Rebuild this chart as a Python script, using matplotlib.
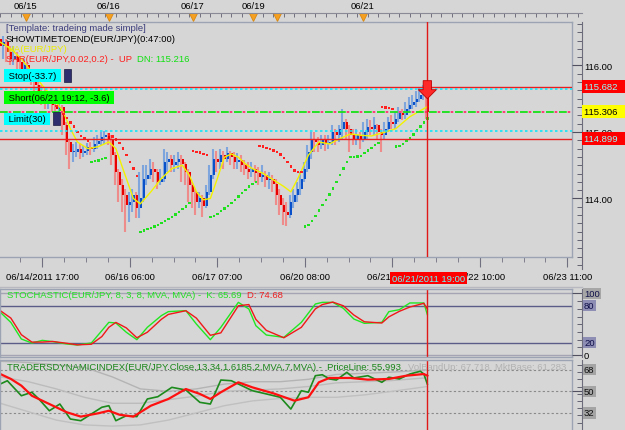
import numpy as np
import matplotlib.pyplot as plt
import matplotlib.transforms as mtransforms
from matplotlib.lines import Line2D
from matplotlib.patches import Rectangle
from matplotlib.ticker import MultipleLocator, FixedLocator, FormatStrFormatter

plt.rcParams['font.family'] = ['Liberation Sans', 'DejaVu Sans']
plt.rcParams['font.size'] = 6.8

# EUR/JPY hourly bars, 06/14 up to 06/21 19:00
closes = [116.30, 116.35, 116.20, 116.10, 116.15, 116.05, 115.95, 116.00, 115.90, 115.80,
          115.70, 115.62, 115.55, 115.45, 115.50, 115.40, 115.35, 115.38, 115.10, 114.85,
          114.70, 114.70, 114.75, 114.68, 114.72, 114.78, 114.74, 114.82, 114.86, 114.92,
          114.95, 114.88, 114.65, 114.40, 114.20, 114.05, 113.90, 113.95, 114.05, 113.85,
          114.00, 114.30, 114.35, 114.45, 114.40, 114.25, 114.30, 114.55, 114.60, 114.50,
          114.55, 114.60, 114.52, 114.40, 114.20, 114.10, 113.95, 114.00, 113.88, 114.10,
          114.35, 114.60, 114.55, 114.65, 114.60, 114.68, 114.62, 114.55, 114.58, 114.50,
          114.45, 114.40, 114.45, 114.38, 114.32, 114.35, 114.28, 114.30, 114.22, 114.05,
          113.90, 113.80, 113.75, 113.95, 114.05, 114.15, 114.30, 114.45, 114.70, 114.90,
          114.85, 114.80, 114.88, 114.82, 114.85, 115.00, 114.95, 115.05, 115.15, 115.05,
          114.95, 114.90, 114.95, 114.88, 115.00, 115.08, 115.05, 115.10, 115.00, 114.95,
          115.05, 115.15, 115.12, 115.20, 115.28, 115.25, 115.35, 115.40, 115.45, 115.50,
          115.55, 115.58, 115.306]
highs = [116.55, 116.45, 116.40, 116.30, 116.30, 116.20, 116.10, 116.10, 116.05, 115.95,
         115.85, 115.75, 115.70, 115.65, 115.60, 115.55, 115.50, 115.48, 115.40, 115.15,
         114.90, 114.82, 114.85, 114.82, 114.80, 114.84, 114.85, 114.92, 114.96, 115.00,
         115.02, 114.98, 114.95, 114.70, 114.45, 114.30, 114.15, 114.10, 114.15, 114.10,
         114.40, 114.50, 114.50, 114.60, 114.55, 114.45, 114.45, 114.75, 114.70, 114.65,
         114.65, 114.70, 114.65, 114.55, 114.45, 114.25, 114.15, 114.10, 114.05, 114.20,
         114.50, 114.75, 114.72, 114.75, 114.72, 114.77, 114.72, 114.70, 114.68, 114.65,
         114.58, 114.55, 114.55, 114.50, 114.48, 114.50, 114.42, 114.40, 114.35, 114.30,
         114.15, 114.00, 113.95, 114.05, 114.15, 114.25, 114.40, 114.55, 114.80, 115.00,
         115.00, 114.92, 114.95, 114.95, 114.95, 115.10, 115.05, 115.10, 115.35, 115.20,
         115.10, 115.05, 115.05, 115.00, 115.15, 115.20, 115.18, 115.22, 115.12, 115.05,
         115.15, 115.22, 115.25, 115.30, 115.38, 115.35, 115.45, 115.52, 115.55, 115.62,
         115.68, 115.70, 115.60]
lows = [116.20, 116.10, 116.05, 116.00, 116.00, 115.95, 115.85, 115.90, 115.80, 115.70,
        115.60, 115.50, 115.40, 115.35, 115.35, 115.30, 115.25, 115.28, 114.95, 114.65,
        114.45, 114.55, 114.62, 114.60, 114.62, 114.65, 114.66, 114.70, 114.75, 114.80,
        114.82, 114.80, 114.50, 114.20, 113.95, 113.80, 113.50, 113.65, 113.80, 113.70,
        113.70, 113.95, 114.20, 114.30, 114.25, 114.15, 114.20, 114.25, 114.40, 114.40,
        114.40, 114.45, 114.25, 114.20, 113.95, 113.85, 113.75, 113.85, 113.72, 113.85,
        114.05, 114.30, 114.40, 114.45, 114.45, 114.55, 114.50, 114.45, 114.45, 114.40,
        114.35, 114.30, 114.32, 114.25, 114.20, 114.25, 114.18, 114.15, 114.10, 113.90,
        113.75, 113.60, 113.58, 113.70, 113.85, 113.95, 114.05, 114.25, 114.40, 114.60,
        114.70, 114.70, 114.75, 114.72, 114.75, 114.80, 114.80, 114.85, 114.90, 114.90,
        114.70, 114.80, 114.80, 114.75, 114.85, 114.90, 114.95, 114.95, 114.88, 114.70,
        114.90, 115.00, 115.05, 115.05, 115.15, 115.18, 115.20, 115.30, 115.35, 115.38,
        115.45, 115.48, 115.20]
first_open = 116.40

ma_bars = [0, 3, 6, 9, 12, 15, 18, 20, 22, 25, 28, 31, 33, 36, 38, 40, 43, 46, 49, 52,
           54, 56, 58, 60, 62, 64, 66, 68, 70, 72, 75, 78, 81, 83, 85, 88, 91, 94, 97, 100,
           103, 106, 110, 113, 117, 121, 122]
ma_vals = [116.35, 116.25, 116.10, 115.90, 115.70, 115.52, 115.30, 115.05, 114.85, 114.75,
           114.78, 114.85, 114.75, 114.30, 114.00, 113.92, 114.10, 114.30, 114.45, 114.50,
           114.35, 114.10, 113.98, 114.00, 114.30, 114.62, 114.67, 114.62, 114.52, 114.45,
           114.38, 114.28, 114.18, 114.10, 114.30, 114.65, 114.85, 114.82, 114.90, 114.97,
           114.95, 114.94, 115.00, 115.05, 115.23, 115.35, 115.38]

nan = float('nan')
sar_vals = [nan] * 16 + [
    115.39, 115.33, 115.27, 115.21, 115.14, 115.08, 115.00, 114.94, 114.90, 114.87,
    114.55, 114.56, 114.57, 114.59, 114.61,
    114.96, 114.93, 114.89, 114.83, 114.75, 114.65, 114.55, 114.45, 114.34,
    113.50, 113.52, 113.54, 113.56, 113.58, 113.60, 113.63, 113.66, 113.69, 113.72,
    113.76, 113.80, 113.84, 113.88, 113.93,
    114.71, 114.70, 114.69, 114.67, 114.65,
    113.72, 113.74, 113.77, 113.81, 113.85, 113.89, 113.93, 113.98, 114.03, 114.08,
    114.13, 114.18, 114.22, 114.25,
    114.79, 114.78, 114.76, 114.74, 114.72, 114.70, 114.66, 114.61, 114.55, 114.48,
    114.42, 114.40, 114.40,
    113.58, 113.60, 113.66, 113.74, 113.82, 113.90, 113.98, 114.06, 114.15, 114.25,
    114.35, 114.45, 114.55, 114.62, 114.62, 114.63, 114.64, 114.68, 114.72, 114.76,
    114.80, 114.83,
    115.38, 115.37, 115.36, 115.35,
    114.78, 114.79, 114.82, 114.86, 114.90, 114.96, 115.02, 115.08, 115.14, 115.20]

stop_price = 115.682
stop_level = 115.65
bid_price = 115.306
limit_level = 115.01
limit_price = 114.899

stoch_bars = [0, 3, 6, 9, 12, 15, 19, 22, 26, 29, 31, 33, 36, 39, 42, 46, 48, 53, 56, 60,
              63, 68, 71, 73, 76, 81, 86, 90, 92, 95, 98, 101, 104, 109, 111, 114, 117, 121, 122]
stoch_k = [69.4, 53.0, 26.0, 19.5, 23.8, 21.7, 17.9, 16.3, 19.5, 39.6, 53.1, 52.0, 36.9, 24.9,
           45.0, 64.0, 70.5, 72.1, 50.4, 24.9, 45.0, 85.6, 74.8, 47.7, 32.5, 28.7, 53.1, 82.9,
           85.6, 85.6, 75.9, 58.5, 51.5, 53.1, 70.5, 73.7, 84.6, 84.6, 65.69]
stoch_d = [72.0, 60.0, 33.0, 21.0, 21.0, 22.0, 19.0, 16.5, 17.5, 30.0, 45.0, 53.0, 44.0, 28.0,
           37.0, 58.0, 66.0, 72.0, 60.0, 32.0, 36.0, 80.0, 82.0, 58.0, 40.0, 28.0, 45.0, 75.0,
           82.0, 86.0, 80.0, 65.0, 54.0, 52.0, 62.0, 71.0, 78.0, 84.0, 74.68]

tdi_bars = [0, 2, 6, 9, 11, 14, 17, 20, 23, 26, 29, 31, 33, 36, 39, 42, 45, 49, 53, 57,
            60, 63, 66, 69, 72, 76, 80, 83, 86, 88, 90, 92, 94, 96, 99, 101, 105, 109, 111, 114,
            117, 120, 121, 122]
tdi_price = [56.1, 58.8, 46.3, 49.2, 43.6, 33.8, 39.4, 26.9, 25.5, 31.1, 36.7, 38.0, 25.5, 29.7,
             28.9, 43.6, 45.5, 53.3, 51.1, 40.8, 39.4, 59.4, 58.8, 54.7, 50.5, 47.8, 45.0, 35.2,
             50.5, 49.2, 63.0, 63.8, 60.3, 59.4, 65.8, 61.1, 63.0, 57.5, 61.7, 60.3, 64.4, 66.7,
             64.4, 55.993]
signal_bars = [0, 3, 6, 9, 14, 19, 23, 28, 31, 34, 38, 43, 48, 53, 57, 60, 63, 68, 72, 78,
               84, 88, 91, 94, 100, 105, 111, 116, 121, 122]
tdi_signal = [64.4, 60.3, 54.7, 46.3, 39.4, 32.5, 28.9, 31.7, 33.8, 30.5, 28.9, 38.0, 43.6, 51.9,
              47.8, 43.6, 49.2, 57.5, 53.3, 48.3, 42.2, 45.0, 57.5, 61.1, 61.1, 59.7, 60.3, 63.0,
              64.4, 63.0]
band_bars = [0, 8, 16, 24, 32, 40, 48, 56, 64, 72, 80, 88, 96, 104, 112, 122]
band_up = [75, 74, 72, 70, 62, 52, 50, 52, 56, 58, 58, 60, 64, 65, 66, 67.718]
band_base = [62, 58, 52, 45, 40, 40, 43, 46, 50, 51, 52, 54, 57, 58, 59, 61.283]
band_dn = [40, 33, 26, 22, 21, 22, 26, 32, 38, 42, 44, 45, 45, 47, 50, 54]

time_ticks = [12, 37, 62, 87, 112, 137, 162]
time_labels = ['06/14/2011 17:00', '06/16 06:00', '06/17 07:00', '06/20 08:00',
               '06/21 09:00', '06/22 10:00', '06/23 11:00']
cursor_label = '06/21/2011 19:00'
event_pos = [7.3, 31.0, 55.0, 72.2, 79.0, 103.6]
event_labels = ['06/15', '06/16', '06/17', '06/19', '', '06/21']

BG = '#d6d6d6'
FRAME = '#9ca4b4'
W, H = 625, 431
BAR_PX = 3.5
X0 = -0.1

fig = plt.figure(figsize=(W / 100, H / 100), dpi=100, facecolor=BG)


def px_axes(x0, y0, x1, y1):
    a = fig.add_axes([x0 / W, 1 - y1 / H, (x1 - x0) / W, (y1 - y0) / H])
    a.set_facecolor(BG)
    a.set_xlim(X0, X0 + (x1 - x0) / BAR_PX)
    return a


def scale_axes(y0, y1, ylim):
    a = fig.add_axes([572 / W, 1 - y1 / H, 10 / W, (y1 - y0) / H])
    a.patch.set_visible(False)
    a.set_ylim(*ylim)
    a.set_xticks([])
    for s in ['left', 'top', 'bottom']:
        a.spines[s].set_visible(False)
    a.spines['right'].set_color('#6c6c7c')
    a.yaxis.tick_right()
    a.tick_params(axis='y', which='major', direction='in', length=7, color='#505060', pad=1.5)
    a.tick_params(axis='y', which='minor', direction='in', length=3.5, color='#505060')
    return a


def frame(a):
    for s in a.spines.values():
        s.set_color(FRAME)
        s.set_linewidth(1)


def label(a, text, dx, dy, **kw):
    a.annotate(text, xy=(0, 1), xycoords='axes fraction', xytext=(dx, dy),
               textcoords='offset pixels', ha='left', va='center', annotation_clip=False, **kw)


x = np.arange(len(closes))
c = np.array(closes)
o = np.array([first_open] + closes[:-1])
h = np.array(highs)
l = np.array(lows)
last = x[-1]

# ---------------- top ruler ----------------
ax_top = px_axes(0, 14, 582, 23)
ax_top.set_ylim(0, 1)
ax_top.set_yticks([])
for s in ['left', 'right', 'bottom']:
    ax_top.spines[s].set_visible(False)
ax_top.spines['top'].set_color('#8a8a96')
ax_top.set_xticks(event_pos, event_labels)
ax_top.xaxis.set_minor_locator(MultipleLocator(3))
ax_top.tick_params(axis='x', which='both', top=True, bottom=False, labeltop=True,
                   labelbottom=False, direction='in', length=3, color='#606070', pad=2)
ax_top.plot(event_pos, [0.55] * len(event_pos), ls='none', marker='v', ms=6,
            mfc='#f5a020', mec='#d88810', mew=0.6, clip_on=False)

# ---------------- main price panel ----------------
ax = px_axes(0, 23, 572, 258)
ax.set_ylim(113.12, 116.654)
frame(ax)
ax.spines['left'].set_visible(False)
ax.set_yticks([])

up = c >= o
ax.vlines(x - 0.25, l, h, colors=np.where(up, '#7ea6dc', '#ee8c8c'), lw=1.5, zorder=3)
ax.bar(x + 0.15, np.maximum(np.abs(c - o), 0.02), bottom=np.minimum(o, c), width=0.6,
       color=np.where(up, '#0a50c8', '#e80000'), linewidth=0, zorder=4)
ax.plot(ma_bars, ma_vals, color='#f2f200', lw=1, zorder=5)
sar = np.array(sar_vals)
ax.scatter(x, sar, s=3, marker='s', linewidths=0, zorder=5,
           c=np.where(sar > c, '#ff2020', '#20e020'))

ax.axhline(stop_price, color='#e82020', lw=1, zorder=6)
ax.axhline(stop_level, color='#10e8f8', lw=1.2, ls=(0, (1.5, 1.5)), zorder=6)
ax.axhline(bid_price, color='#18e018', lw=1.3, ls=(0, (4.3, 2.9)), zorder=6)
ax.axhline(bid_price, color='#ff3070', lw=1.3, ls=(2.4, (1.44, 5.76)), zorder=6)
ax.axhline(limit_level, color='#10e8f8', lw=1.2, ls=(0, (1.5, 1.5)), zorder=6)
ax.axhline(limit_price, color='#e82020', lw=1, zorder=6)
ax.axvline(last, color='#e01818', lw=1, zorder=6)

ax.annotate('', xy=(last, h[-1] - 0.1), xytext=(0, 13), textcoords='offset points',
            arrowprops=dict(arrowstyle='simple,head_length=0.65,head_width=1.3,tail_width=0.6',
                            mutation_scale=10, shrinkA=0, shrinkB=0,
                            fc='#ff2828', ec='#c00000', lw=0.6), zorder=8)

label(ax, '[Template: tradeing made simple]', 6, -5.5, color='#3c3c7c')
label(ax, 'SHOWTIMETOEND(EUR/JPY)(0:47:00)', 6, -16.5, color='black')
label(ax, 'MA(EUR/JPY)', 6, -27, color='#ecec00', zorder=7)
label(ax, 'SAR(EUR/JPY,0.02,0.2) -  UP', 6, -36.5, color='#ff2020', zorder=7)
label(ax, 'DN: 115.216', 137, -36.5, color='#10e010')
label(ax, ' Stop(-33.7) ', 6, -53.5, color='black', zorder=9,
      bbox=dict(boxstyle='square,pad=0.18', fc='#00ffff', ec='none'))
label(ax, ' Short(06/21 19:12, -3.6) ', 6, -75.5, color='black', zorder=9,
      bbox=dict(boxstyle='square,pad=0.18', fc='#00ff00', ec='none'))
label(ax, ' Limit(30) ', 6, -97, color='black', zorder=9,
      bbox=dict(boxstyle='square,pad=0.18', fc='#00ffff', ec='none'))
for bx0, by0 in [(64, 70), (53, 113)]:
    fig.add_artist(Rectangle((bx0 / W, 1 - (by0 + 13) / H), 7 / W, 13 / H,
                             fc='#2e2e6e', ec='#1a1a40', lw=0.5, zorder=9))

ax.set_xticks(time_ticks, time_labels)
ax.xaxis.set_minor_locator(FixedLocator(np.arange(time_ticks[0] - 12.5, 164, 6.25)))
ax.tick_params(axis='x', which='major', direction='out', length=7, color='#707080', pad=4)
ax.tick_params(axis='x', which='minor', direction='out', length=3.5, color='#707080')
ax.annotate(cursor_label, xy=(last, 0), xycoords=('data', 'axes fraction'), xytext=(1, -21),
            textcoords='offset pixels', ha='center', va='center', color='#60ffff', zorder=10,
            annotation_clip=False,
            bbox=dict(boxstyle='square,pad=0.2', fc='#ff0000', ec='none'))

ax_p = scale_axes(23, 270, (116 - (270 - 66.5) / 66.5, 116.654))
ax_p.set_yticks([114, 115, 116])
ax_p.yaxis.set_major_formatter(FormatStrFormatter('%.2f'))
ax_p.yaxis.set_minor_locator(MultipleLocator(0.125))
blend_p = mtransforms.blended_transform_factory(ax_p.transAxes, ax_p.transData)
for val, fc, tc in [(stop_price, '#ff0000', '#90ffff'), (bid_price, '#ffff00', 'black'),
                    (limit_price, '#ff0000', '#90ffff')]:
    ax_p.text(1.2, val, f'{val:.3f}  ', transform=blend_p, va='center', ha='left', color=tc,
              bbox=dict(boxstyle='square,pad=0.2', fc=fc, ec='none'), zorder=10)

fig.add_artist(Line2D([0, 582 / W], [1 - 287.5 / H] * 2, color='#b8b8c0', lw=1))

# ---------------- stochastic panel ----------------
ax_s = px_axes(0, 290, 572, 358)
stoch_lim = (-3.25, 107.3)
ax_s.set_ylim(*stoch_lim)
frame(ax_s)
ax_s.set_xticks([])
ax_s.set_yticks([])
for lvl, col in [(100, '#a4a4b4'), (80, '#5c5c88'), (20, '#5c5c88'), (0, '#a4a4b4')]:
    ax_s.axhline(lvl, color=col, lw=1)
ax_s.plot(stoch_bars, stoch_k, color='#22e622', lw=1)
ax_s.plot(stoch_bars, stoch_d, color='#f01818', lw=1)
ax_s.axvline(last, color='#e01818', lw=1)
label(ax_s, 'STOCHASTIC(EUR/JPY, 8, 3, 8, MVA, MVA) -  K: 65.69', 7, -6, color='#22e022')
label(ax_s, 'D: 74.68', 247, -6, color='#f02020')

ax_ss = scale_axes(290, 358, stoch_lim)
ax_ss.set_yticks([0, 100], ['', ''])
ax_ss.yaxis.set_minor_locator(MultipleLocator(12.5))
blend_s = mtransforms.blended_transform_factory(ax_ss.transAxes, ax_ss.transData)
for val, fc in [(100, '#a6a6a6'), (80, '#8e8eb4'), (20, '#8e8eb4'), (0, None)]:
    box = dict(boxstyle='square,pad=0.12', fc=fc, ec='none') if fc else None
    ax_ss.text(1.2, val, str(val), transform=blend_s, va='center', ha='left',
               color='#10104a' if fc else 'black', bbox=box)

# ---------------- TDI panel ----------------
ax_t = px_axes(0, 361, 572, 432)
tdi_lim = (50 + (392.3 - 432) / 1.2, 50 + (392.3 - 361) / 1.2)
ax_t.set_ylim(*tdi_lim)
frame(ax_t)
ax_t.set_xticks([])
ax_t.set_yticks([])
for lvl in [68, 50, 32]:
    ax_t.axhline(lvl, color='#8a8a8a', lw=0.8, ls=(0, (2, 2)))
ax_t.plot(band_bars, band_up, color='#b4b4b4', lw=1)
ax_t.plot(band_bars, band_base, color='#bcbcbc', lw=1)
ax_t.plot(band_bars, band_dn, color='#c0c0c0', lw=1)
ax_t.plot(tdi_bars, tdi_price, color='#1c8a1c', lw=1.2)
ax_t.plot(signal_bars, tdi_signal, color='#ff1010', lw=1.6)
ax_t.axvline(last, color='#e01818', lw=1)
label(ax_t, 'TRADERSDYNAMICINDEX(EUR/JPY.Close,13,34,1.6185,2,MVA,7,MVA) -  PriceLine: 55.993',
      7, -7, color='#1a861a')
label(ax_t, 'VolBandUp: 67.718  MktBase: 61.283', 408, -7, color='#b2b2b2')

ax_ts = scale_axes(361, 432, tdi_lim)
ax_ts.set_yticks([50], [''])
ax_ts.yaxis.set_minor_locator(MultipleLocator(6))
blend_t = mtransforms.blended_transform_factory(ax_ts.transAxes, ax_ts.transData)
for val in [68, 50, 32]:
    ax_ts.text(1.2, val, str(val), transform=blend_t, va='center', ha='left', color='#101010',
               bbox=dict(boxstyle='square,pad=0.12', fc='#a4a4a4', ec='none'))

fig.savefig('out.png', dpi=100, facecolor=BG)
